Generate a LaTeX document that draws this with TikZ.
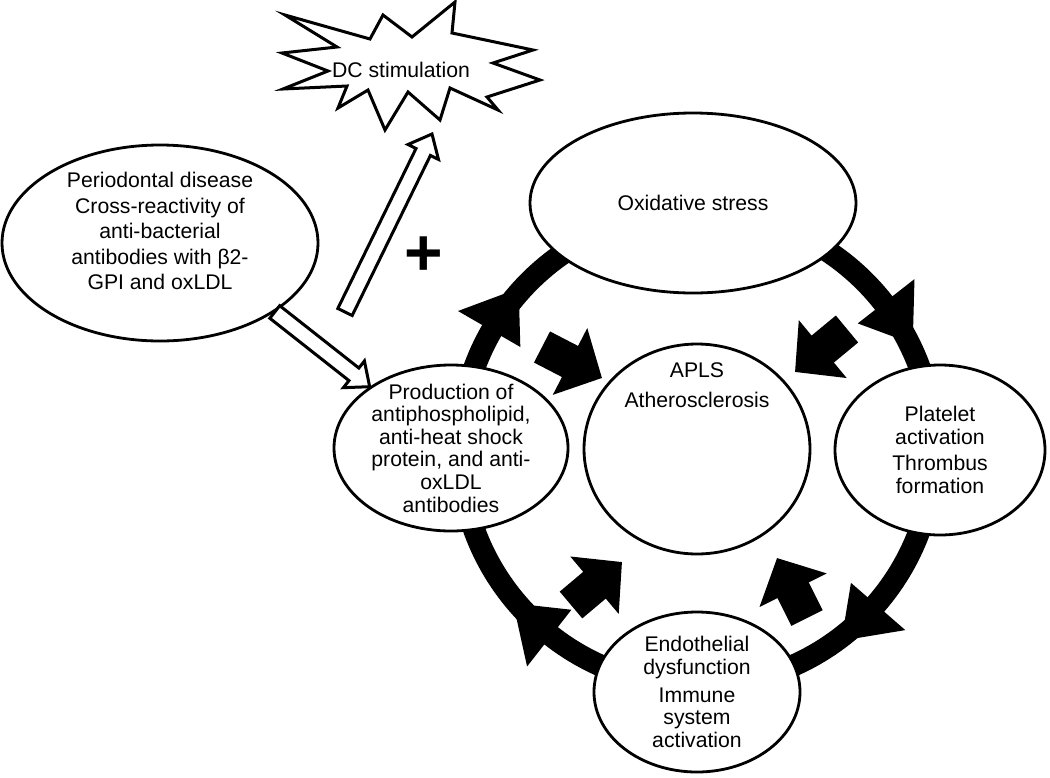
\documentclass[tikz,border=0pt]{standalone}
\usepackage{fontspec}
\setmainfont{Liberation Sans}
\usetikzlibrary{shapes.geometric,arrows.meta,calc,backgrounds}

\tikzset{
  bubble/.style={ellipse, draw, fill=white, line width=1.4pt, inner sep=0pt},
  txt/.style={align=center, inner sep=0pt, font=\fontsize{10.6}{11.3}\selectfont},
  ring/.style={line width=11pt},
  push/.style={line width=17.5pt, -{Triangle[length=18pt,width=36.5pt]}},
  hollow/.style={draw, fill=white, line width=1.5pt, line join=miter},
  burst/.style={draw, fill=white, line width=1.5pt, line join=miter},
}
% open block arrow from #1 to #2
\newcommand{\hollowarrow}[2]{%
  \coordinate (hb) at ($(#2)!10pt!(#1)$);
  \draw[hollow] ($(#1)!4pt!90:(#2)$) -- ($(hb)!4pt!90:(#2)$) -- ($(hb)!8.5pt!90:(#2)$) -- (#2)
    -- ($(hb)!8.5pt!-90:(#2)$) -- ($(hb)!4pt!-90:(#2)$) -- ($(#1)!4pt!-90:(#2)$) -- cycle;
}

\begin{document}
\begin{tikzpicture}[x=0.5pt, y=-0.5pt]
  \useasboundingbox (0,0) rectangle (1050,777);

  % bubbles
  \node[bubble, minimum width=158pt, minimum height=98pt] (perio) at (160,243) {};
  \node[bubble, minimum width=163pt, minimum height=90pt] (oxi) at (693,203) {};
  \node[bubble, minimum width=117pt, minimum height=83pt] (prod) at (451,448) {};
  \node[bubble, minimum width=113pt, minimum height=105pt] (apls) at (697,449) {};
  \node[bubble, minimum width=105pt, minimum height=85pt] (plat) at (940,450) {};
  \node[bubble, minimum width=103pt, minimum height=80pt] (endo) at (697,692) {};

  \node[txt, font=\fontsize{10.6}{12.75}\selectfont] (periotxt) at ([yshift=6pt]perio.center)
    {Periodontal disease\\Cross-reactivity of\\anti-bacterial\\antibodies with β2-\\GPI and oxLDL};
  \node[txt] (oxitxt) at (oxi.center) {Oxidative stress};
  \node[txt] (prodtxt) at (prod.center)
    {Production of\\antiphospholipid,\\anti-heat shock\\protein, and anti-\\oxLDL\\antibodies};
  \node[txt] (aplstxt) at ([yshift=32pt]apls.center) {APLS\\[4pt]Atherosclerosis};
  \node[txt] (plattxt) at (plat.center) {Platelet\\activation\\[2pt]Thrombus\\formation};
  \node[txt] (endotxt) at (endo.center) {Endothelial\\dysfunction\\[2.5pt]Immune\\system\\activation};

  % the cycle
  \begin{scope}[on background layer]
    \draw[ring] (apls.center) circle[radius=118.5pt];
    \foreach \a in {-26,53,140,222}
      \fill ($(apls.center)+(\a:240)$) -- ($(apls.center)+(\a-12:276)$)
        -- ($(apls.center)+(\a-12:204)$) -- cycle;
  \end{scope}

  % arrows into APLS
  \coordinate (tlfrom) at (542,347); \coordinate (tlto) at (602,378);
  \coordinate (trfrom) at (847,329); \coordinate (trto) at (795,372);
  \coordinate (blfrom) at (571,605); \coordinate (blto) at (622,562);
  \coordinate (brfrom) at (807,618); \coordinate (brto) at (777,558);
  \draw[push] (tlfrom) -- (tlto);
  \draw[push] (trfrom) -- (trto);
  \draw[push] (blfrom) -- (blto);
  \draw[push] (brfrom) -- (brto);

  % DC stimulation
  \draw[burst] (285,15) -- (370,39) -- (383,15) -- (412,37) -- (455,2) -- (452,33)
    -- (533,50) -- (493,63) -- (540,80) -- (487,97) -- (498,110) -- (450,88)
    -- (440,120) -- (408,92) -- (385,130) -- (368,90) -- (338,108) -- (347,86)
    -- (283,89) -- (328,71) -- (282,53) -- (337,47) -- cycle;
  \node[txt] (dc) at (401,70) {DC stimulation};

  \coordinate (dcfrom) at (345,312);
  \coordinate (dcto) at (432,134);
  \hollowarrow{dcfrom}{dcto}
  \hollowarrow{perio.-31}{prod.143}

  \node[font=\fontsize{33}{33}\selectfont\bfseries] (plus) at (424,256) {+};
\end{tikzpicture}
\end{document}
